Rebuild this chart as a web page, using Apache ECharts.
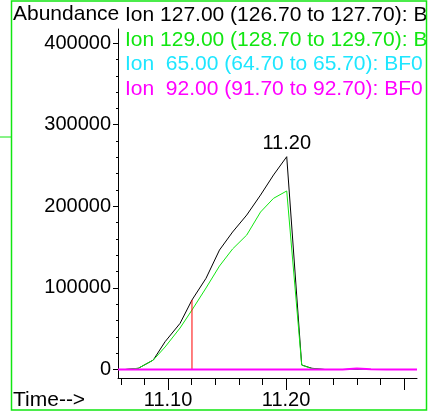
<!DOCTYPE html>
<html>
<head>
<meta charset="utf-8">
<script src="https://cdn.jsdelivr.net/npm/echarts@6/dist/echarts.min.js"></script>
<style>
    html, body { margin: 0; padding: 0; background: #fff; }
    #main { width: 432px; height: 413px; }
</style>
</head>
<body>
<div id="main"></div>
<script>
// retention time (min) of the scans for the two main ions
var times = [11.0576, 11.0636, 11.0748, 11.0875, 11.0975, 11.1102, 11.1203, 11.1322, 11.1436,
    11.1547, 11.1667, 11.1784, 11.1894, 11.2006, 11.2133, 11.2220, 11.2330, 11.2500, 11.2600,
    11.2700, 11.3110];
var ion127 = [0, 0, 1500, 11600, 34100, 56600, 85200, 111800, 146400,
    168500, 189300, 213800, 238400, 260800, 5500, 1500, 0, 0, 0,
    0, 0];
var ion129 = [0, 0, 1500, 11600, 27600, 50900, 72900, 99900, 126800,
    147700, 164800, 193000, 209800, 218800, 5500, 1000, 0, 0, 800,
    0, 0];
// the two small ions stay on the baseline
var lowTimes = [11.0576, 11.10, 11.15, 11.20, 11.235, 11.248, 11.26, 11.272, 11.285, 11.311];
var ion65 = [0, 0, 0, 0, 0, 0, 1000, 0, 0, 0];
var ion92 = [0, 0, 0, 0, 0, 0, 1200, 300, 0, 0];
// integration marker
var markerTime = 11.1203;
var markerValue = 85200;
var peakTime = 11.2006;
var peakValue = 260800;
var peakLabel = '11.20';

var names = [
    'Ion 127.00 (126.70 to 127.70): BF0',
    'Ion 129.00 (128.70 to 129.70): BF0',
    'Ion  65.00 (64.70 to 65.70): BF0',
    'Ion  92.00 (91.70 to 92.70): BF0'
];
var colors = ['#000000', '#11e611', '#1ee6ff', '#ff00ff'];

var xMajor = [11.10, 11.20, 11.30];
var xMinor = [11.06, 11.08, 11.10, 11.12, 11.14, 11.16, 11.18, 11.20, 11.22, 11.24, 11.26, 11.28, 11.30];
var yMajor = [0, 100000, 200000, 300000, 400000];
var yMinor = [20000, 40000, 60000, 80000, 120000, 140000, 160000, 180000, 220000, 240000, 260000,
    280000, 320000, 340000, 360000, 380000];

var pairs = function (t, v) {
    return t.map(function (x, i) { return [x, v[i]]; });
};

var font = 'Liberation Sans';
var chart = echarts.init(document.getElementById('main'));
var xMin = 11.0576, xMax = 11.311;
var option = {
    animation: false,
    grid: { left: 118, right: 15, top: 29, bottom: 35 },
    legend: {
        orient: 'vertical',
        left: 120,
        top: 5,
        itemWidth: 0,
        itemHeight: 0,
        itemGap: 3.5,
        padding: 0,
        icon: 'rect',
        selectedMode: false,
        textStyle: { fontFamily: font, fontSize: 21, lineHeight: 21 },
        data: names.map(function (n, i) {
            return { name: n, textStyle: { color: colors[i] } };
        })
    },
    xAxis: [{
        type: 'value',
        min: xMin,
        max: xMax,
        axisLine: { onZero: false, lineStyle: { color: '#000', width: 1 } },
        axisTick: { customValues: xMinor, length: 7, lineStyle: { color: '#000' } },
        axisLabel: { show: false },
        splitLine: { show: false }
    }, {
        type: 'value',
        position: 'bottom',
        min: xMin,
        max: xMax,
        axisLine: { show: false, onZero: false },
        axisTick: { customValues: xMajor, length: 12, lineStyle: { color: '#000' } },
        axisLabel: {
            customValues: [11.10, 11.20],
            margin: 12,
            color: '#000',
            fontFamily: font,
            fontSize: 20,
            formatter: function (v) { return v.toFixed(2); }
        },
        splitLine: { show: false }
    }],
    yAxis: [{
        type: 'value',
        min: -10400,
        max: 417300,
        axisLine: { show: true, onZero: false, lineStyle: { color: '#000', width: 1 } },
        axisTick: { customValues: yMajor, length: 5, lineStyle: { color: '#000' } },
        axisLabel: {
            customValues: yMajor,
            margin: 7,
            color: '#000',
            fontFamily: font,
            fontSize: 20,
            formatter: function (v) { return String(v); }
        },
        splitLine: { show: false }
    }, {
        type: 'value',
        position: 'left',
        min: -10400,
        max: 417300,
        axisLine: { show: false, onZero: false },
        axisTick: { customValues: yMinor, length: 2, lineStyle: { color: '#000' } },
        axisLabel: { show: false },
        splitLine: { show: false }
    }],
    series: [{
        name: names[0],
        type: 'line',
        data: pairs(times, ion127),
        showSymbol: false,
        lineStyle: { color: colors[0], width: 1 },
        itemStyle: { color: colors[0] },
        markPoint: {
            symbol: 'rect',
            symbolSize: 0,
            label: {
                show: true,
                position: 'top',
                distance: 3,
                color: '#000',
                fontFamily: font,
                fontSize: 20,
                formatter: peakLabel
            },
            data: [{ coord: [peakTime, peakValue] }]
        }
    }, {
        name: names[1],
        type: 'line',
        data: pairs(times, ion129),
        showSymbol: false,
        lineStyle: { color: colors[1], width: 1 },
        itemStyle: { color: colors[1] }
    }, {
        name: 'marker',
        type: 'line',
        data: [[markerTime, 0], [markerTime, markerValue]],
        showSymbol: false,
        lineStyle: { color: '#ff0000', width: 1 },
        itemStyle: { color: '#ff0000' }
    }, {
        name: names[2],
        type: 'line',
        data: pairs(lowTimes, ion65),
        showSymbol: false,
        lineStyle: { color: colors[2], width: 1 },
        itemStyle: { color: colors[2] }
    }, {
        name: names[3],
        type: 'line',
        data: pairs(lowTimes, ion92),
        showSymbol: false,
        lineStyle: { color: colors[3], width: 2 },
        itemStyle: { color: colors[3] }
    }],
    graphic: [{
        type: 'text', left: 13, top: 4, z: 50,
        style: { text: 'Abundance', fill: '#000', font: '21px "Liberation Sans"' }
    }, {
        type: 'text', left: 13, top: 390, z: 50,
        style: { text: 'Time-->', fill: '#000', font: '21px "Liberation Sans"' }
    }, {
        // hide whatever runs past the right frame
        type: 'rect', z: 100,
        shape: { x: 427, y: 0, width: 5, height: 413 },
        style: { fill: '#fff' }
    }, {
        type: 'rect', z: 101,
        shape: { x: 11.5, y: 1, width: 415, height: 409 },
        style: { fill: 'none', stroke: '#11e611', lineWidth: 1.5 }
    }, {
        type: 'line', z: 101,
        shape: { x1: 0, y1: 137, x2: 11, y2: 137 },
        style: { stroke: '#11e611', lineWidth: 1 }
    }]
};
chart.setOption(option);
</script>
</body>
</html>
